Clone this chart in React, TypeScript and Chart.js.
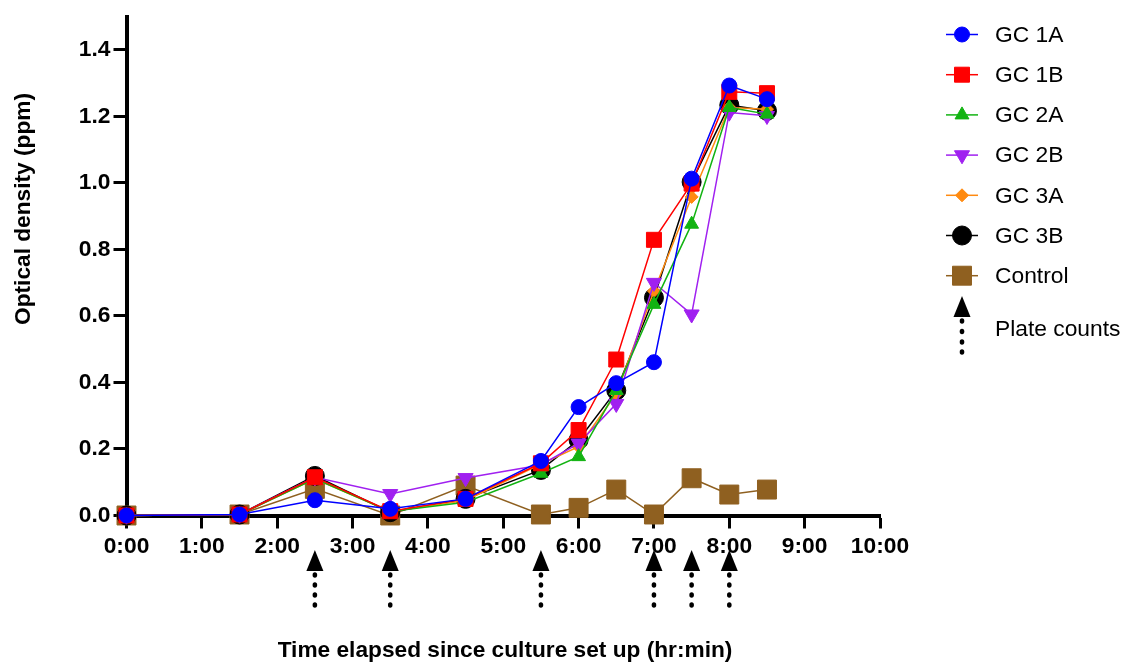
import React, { useEffect, useRef } from 'react';
import { Chart, registerables } from 'chart.js';
import { drawPoint } from 'chart.js/helpers';

Chart.register(...registerables);

// ---- Data ----
const times = [0, 1.5, 2.5, 3.5, 4.5, 5.5, 6, 6.5, 7, 7.5, 8, 8.5];
const gc1A = [0, 0.003, 0.046, 0.02, 0.05, 0.164, 0.326, 0.398, 0.461, 1.013, 1.293, 1.252];
const gc1B = [0, 0.003, 0.115, 0.013, 0.05, 0.157, 0.257, 0.469, 0.829, 0.998, 1.274, 1.27];
const gc2A = [0, 0.003, 0.11, 0.012, 0.04, 0.127, 0.177, 0.376, 0.635, 0.876, 1.227, 1.207];
const gc2B = [0, 0.003, 0.115, 0.065, 0.113, 0.152, 0.217, 0.336, 0.7, 0.605, 1.212, 1.202];
const gc3A = [0, 0.003, 0.11, 0.012, 0.045, 0.155, 0.207, 0.366, 0.675, 0.958, 1.227, 1.222];
const gc3B = [0, 0.003, 0.119, 0.01, 0.05, 0.137, 0.227, 0.376, 0.655, 1.003, 1.234, 1.217];
const control = [0, 0.003, 0.08, 0.0, 0.09, 0.003, 0.023, 0.078, 0.003, 0.112, 0.063, 0.078];

const xTicks = [0, 1, 2, 3, 4, 5, 6, 7, 8, 9, 10];
const yTicks = [0, 0.2, 0.4, 0.6, 0.8, 1.0, 1.2, 1.4];
const plateCountTimes = [2.5, 3.5, 5.5, 7, 7.5, 8];

const xTitle = 'Time elapsed since culture set up (hr:min)';
const yTitle = 'Optical density (ppm)';
const plateLabel = 'Plate counts';

const FONT = "Arial, 'Liberation Sans', Helvetica, sans-serif";

type Style = { label: string; values: number[]; color: string; pointStyle: string; radius: number; rotation?: number };

const seriesStyles: Style[] = [
  { label: 'GC 1A', values: gc1A, color: '#0000FF', pointStyle: 'circle', radius: 7.5 },
  { label: 'GC 1B', values: gc1B, color: '#FF0000', pointStyle: 'rect', radius: 10.6 },
  { label: 'GC 2A', values: gc2A, color: '#12B312', pointStyle: 'triangle', radius: 8 },
  { label: 'GC 2B', values: gc2B, color: '#A020F0', pointStyle: 'triangle', radius: 8.7, rotation: 180 },
  { label: 'GC 3A', values: gc3A, color: '#FF8A10', pointStyle: 'rectRot', radius: 6.5 },
  { label: 'GC 3B', values: gc3B, color: '#000000', pointStyle: 'circle', radius: 9.5 },
  { label: 'Control', values: control, color: '#8F6020', pointStyle: 'rect', radius: 13.4 },
];

function drawPlateArrow(ctx: CanvasRenderingContext2D, x: number, apexY: number, baseY: number, dotYs: number[]) {
  ctx.save();
  ctx.fillStyle = '#000';
  ctx.beginPath();
  ctx.moveTo(x, apexY);
  ctx.lineTo(x + 8.5, baseY);
  ctx.lineTo(x - 8.5, baseY);
  ctx.closePath();
  ctx.fill();
  for (const dy of dotYs) {
    ctx.beginPath();
    ctx.ellipse(x, dy, 2.3, 2.8, 0, 0, Math.PI * 2);
    ctx.fill();
  }
  ctx.restore();
}

const decorPlugin = {
  id: 'decor',
  afterDraw(chart: any) {
    const ctx: CanvasRenderingContext2D = chart.ctx;
    const xScale = chart.scales.x;
    // plate count arrows under x axis
    for (const t of plateCountTimes) {
      const px = xScale.getPixelForValue(t);
      drawPlateArrow(ctx, px, 550, 571, [575, 585, 595, 605]);
    }
    // axis titles
    ctx.save();
    ctx.fillStyle = '#000';
    ctx.font = `bold 22.7px ${FONT}`;
    ctx.textAlign = 'center';
    ctx.textBaseline = 'middle';
    ctx.fillText(xTitle, 505, 651);
    ctx.translate(24, 209);
    ctx.rotate(-Math.PI / 2);
    ctx.fillText(yTitle, 0, 0);
    ctx.restore();

    // legend
    ctx.save();
    const lx0 = 946;
    const lx1 = 978;
    const mx = 962;
    const tx = 995;
    ctx.font = `22.8px ${FONT}`;
    ctx.textBaseline = 'middle';
    ctx.textAlign = 'left';
    seriesStyles.forEach((s, i) => {
      const y = 34.5 + i * 40.2;
      ctx.strokeStyle = s.color;
      ctx.lineWidth = 1.5;
      ctx.beginPath();
      ctx.moveTo(lx0, y);
      ctx.lineTo(lx1, y);
      ctx.stroke();
      ctx.fillStyle = s.color;
      ctx.strokeStyle = s.color;
      ctx.lineWidth = 1;
      drawPoint(ctx, { pointStyle: s.pointStyle as any, radius: s.radius, rotation: s.rotation || 0, borderWidth: 1 } as any, mx, y);
      ctx.fillStyle = '#000';
      ctx.fillText(s.label, tx, y + 1);
    });
    drawPlateArrow(ctx, mx, 296, 317, [321, 331.5, 342, 352]);
    ctx.fillStyle = '#000';
    ctx.fillText(plateLabel, tx, 330);
    ctx.restore();
  },
};

export default function App() {
  const canvasRef = useRef<HTMLCanvasElement | null>(null);

  useEffect(() => {
    const canvas = canvasRef.current;
    if (!canvas) return;
    const datasets = seriesStyles.map((s) => ({
      label: s.label,
      data: times.map((t, i) => ({ x: t, y: s.values[i] })),
      borderColor: s.color,
      backgroundColor: s.color,
      borderWidth: 1.5,
      pointStyle: s.pointStyle,
      pointRadius: s.radius,
      pointHoverRadius: s.radius,
      pointRotation: s.rotation || 0,
      pointBorderWidth: 1,
      pointBorderColor: s.color,
      pointBackgroundColor: s.color,
      tension: 0,
      clip: false,
      fill: false,
    }));

    const chart = new Chart(canvas, {
      type: 'line',
      data: { datasets } as any,
      plugins: [decorPlugin],
      options: {
        animation: false,
        responsive: false,
        maintainAspectRatio: false,
        layout: { padding: { left: 0, top: 13, right: 244, bottom: 0 } },
        plugins: { legend: { display: false }, tooltip: { enabled: false }, title: { display: false } },
        scales: {
          x: {
            type: 'linear',
            min: 0,
            max: 10,
            afterBuildTicks: (scale: any) => {
              scale.ticks = xTicks.map((v) => ({ value: v }));
            },
            afterFit: (scale: any) => {
              scale.height = 148.5;
            },
            ticks: {
              callback: (v: any) => `${v}:00`,
              color: '#000',
              font: { family: FONT, size: 22.8, weight: 'bold' },
              padding: 5,
              maxRotation: 0,
              autoSkip: false,
            },
            grid: {
              display: true,
              drawOnChartArea: false,
              drawTicks: true,
              tickLength: 13,
              tickWidth: 3,
              tickColor: '#000',
              color: '#000',
            },
            border: { display: true, color: '#000', width: 4 },
          },
          y: {
            type: 'linear',
            min: 0,
            max: 1.5,
            afterBuildTicks: (scale: any) => {
              scale.ticks = yTicks.map((v) => ({ value: v }));
            },
            afterFit: (scale: any) => {
              scale.width = 126.5;
            },
            ticks: {
              callback: (v: any) => Number(v).toFixed(1),
              color: '#000',
              font: { family: FONT, size: 22.8, weight: 'bold' },
              padding: 3,
              autoSkip: false,
            },
            grid: {
              display: true,
              drawOnChartArea: false,
              drawTicks: true,
              tickLength: 13,
              tickWidth: 3,
              tickColor: '#000',
              color: '#000',
            },
            border: { display: true, color: '#000', width: 4 },
          },
        },
      } as any,
    });
    return () => chart.destroy();
  }, []);

  return (
    <div style={{ position: 'fixed', left: 0, top: 0, width: 1124, height: 664, background: '#fff' }}>
      <canvas ref={canvasRef} width={1124} height={664} style={{ display: 'block', width: 1124, height: 664 }} />
    </div>
  );
}
